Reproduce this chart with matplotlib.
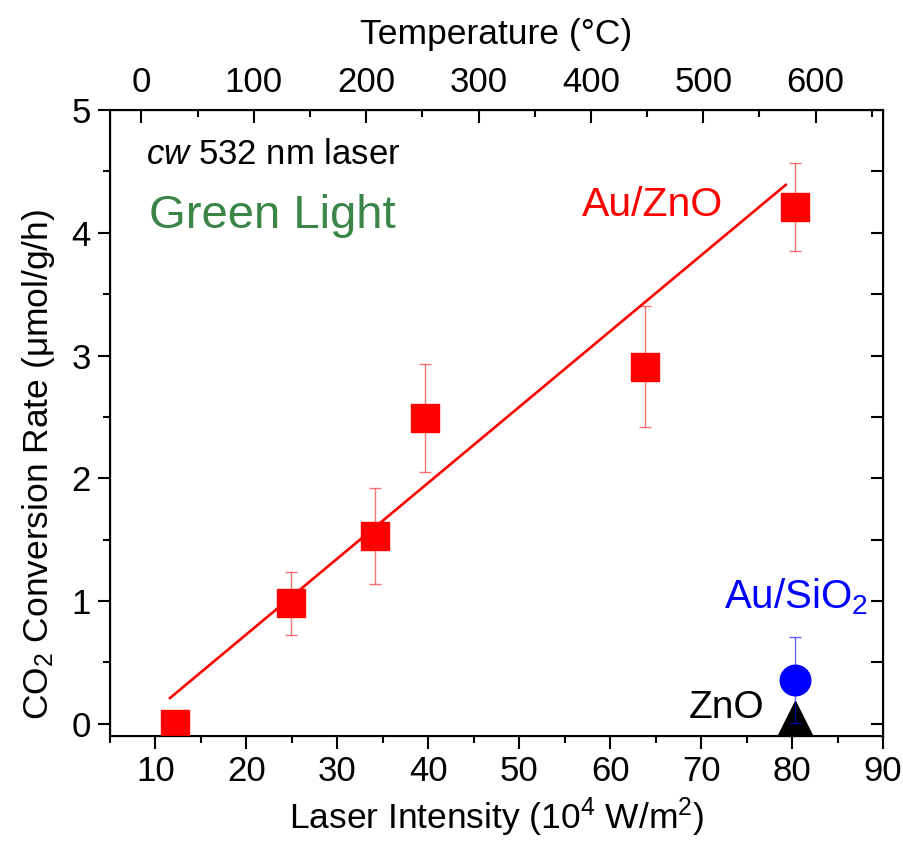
import matplotlib
matplotlib.use('Agg')
import matplotlib.pyplot as plt
import numpy as np

plt.rcParams['font.family'] = ['Liberation Sans', 'DejaVu Sans']
plt.rcParams['mathtext.fontset'] = 'custom'
plt.rcParams['mathtext.rm'] = 'Liberation Sans'
plt.rcParams['mathtext.it'] = 'Liberation Sans:italic'
plt.rcParams['mathtext.bf'] = 'Liberation Sans:bold'

# Au/ZnO under green laser
auzno_x = [12.1, 24.9, 34.1, 39.6, 63.8, 80.3]
auzno_y = [0.0, 0.98, 1.53, 2.49, 2.91, 4.21]
auzno_err = [0.0, 0.26, 0.39, 0.44, 0.49, 0.36]

# linear fit drawn in the figure (end points)
fit_x = [11.6, 79.3]
fit_y = [0.21, 4.39]

# controls at the highest intensity
ausio2_x = [80.3]
ausio2_y = [0.36]
ausio2_err = [0.35]
zno_x = [80.3]
zno_y = [0.0]

temp_lim = (-28, 660)
x_lim = (5, 90)
y_lim = (-0.1, 5)

fig = plt.figure(figsize=(9.04, 8.41), dpi=100)
ax = fig.add_axes([0.1217, 0.1248, 0.8551, 0.7444])

ax.errorbar(auzno_x, auzno_y, yerr=auzno_err, fmt='none', ecolor='red',
            elinewidth=1, capsize=4.5, capthick=1, alpha=0.55, zorder=2)
ax.plot(fit_x, fit_y, color='red', lw=1.9, zorder=3)
ax.plot(auzno_x, auzno_y, 's', color='red', ms=19.5, mec='red', zorder=4)

ax.plot(zno_x, zno_y, '^', color='black', ms=33, zorder=4)
ax.errorbar(ausio2_x, ausio2_y, yerr=ausio2_err, fmt='none', ecolor='blue',
            elinewidth=1, capsize=4.5, capthick=1, alpha=0.6, zorder=5)
ax.plot(ausio2_x, ausio2_y, 'o', color='blue', ms=22, zorder=6)

ax.text(9.0, 4.56, r'$\it{cw}$ 532 nm laser', fontsize=25, va='baseline')
ax.text(9.3, 4.04, 'Green Light', fontsize=34, color='#3b8548', va='baseline')
ax.text(56.9, 4.14, 'Au/ZnO', fontsize=29.5, color='red', va='baseline')
ax.text(72.5, 0.94, 'Au/SiO$_2$', fontsize=29, color='blue', va='baseline')
ax.text(68.6, 0.046, 'ZnO', fontsize=28, color='black', va='baseline')

ax.set_xlim(*x_lim)
ax.set_ylim(*y_lim)
ax.set_xticks(np.arange(10, 91, 10))
ax.set_xticks(np.arange(5, 91, 5), minor=True)
ax.set_yticks(np.arange(0, 5.1, 1))
ax.set_yticks(np.arange(0, 5.1, 0.5), minor=True)
ax.tick_params(which='both', direction='out', width=1.5, labelsize=25)
ax.tick_params(which='major', length=9, pad=5)
ax.tick_params(which='minor', length=5)
for s in ax.spines.values():
    s.set_linewidth(1.5)

ax.set_xlabel('Laser Intensity (10$^4$ W/m$^2$)', fontsize=25.5, labelpad=5)
ax.set_ylabel('CO$_2$ Conversion Rate (\u03bcmol/g/h)', fontsize=25.5)
ax.yaxis.set_label_coords(-0.069, 0.433)

# right axis: inward ticks only
axr = ax.twinx()
axr.set_ylim(*y_lim)
axr.set_yticks(np.arange(0, 5.1, 0.5))
axr.tick_params(direction='in', length=9, width=1.5, labelright=False)

# top axis: temperature
axt = ax.twiny()
axt.set_xlim(*temp_lim)
axt.set_xticks(np.arange(0, 601, 100))
axt.set_xticks(np.arange(0, 651, 50), minor=True)
axt.tick_params(which='both', direction='in', width=1.5, labelsize=25)
axt.tick_params(which='major', length=9, pad=8)
axt.tick_params(which='minor', length=5)
axt.set_xlabel('Temperature (\u00b0C)', fontsize=25.5, labelpad=16)

fig.savefig('out.png', dpi=100)
